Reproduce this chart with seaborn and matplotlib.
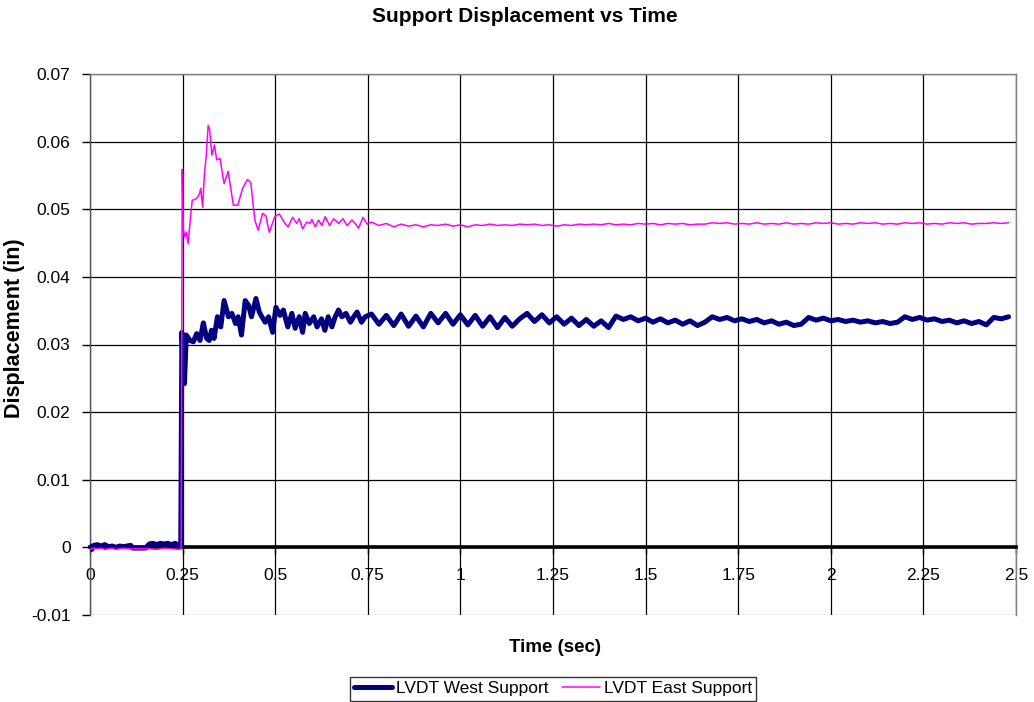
import numpy as np
import pandas as pd
import matplotlib
matplotlib.use("Agg")
import matplotlib.pyplot as plt
import seaborn as sns
from matplotlib.lines import Line2D

# ---------------- data ----------------
west_time_pre = [0.000, 0.005, 0.010, 0.020, 0.030, 0.040, 0.050, 0.060, 0.070, 0.080,
                 0.090, 0.100, 0.110, 0.115, 0.130, 0.150, 0.160, 0.170, 0.180, 0.190,
                 0.200, 0.210, 0.220, 0.230, 0.240, 0.245]
west_disp_pre = [0.0002, -0.0003, 0.0003, 0.0004, 0.0002, 0.0004, 0.0001, 0.0002, 0.0000, 0.0002,
                 0.0001, 0.0002, 0.0003, -0.0001, -0.0001, -0.0001, 0.0005, 0.0006, 0.0004, 0.0006,
                 0.0005, 0.0006, 0.0004, 0.0006, 0.0003, 0.0001]

west_time_tr = [0.248, 0.255, 0.260, 0.270, 0.279, 0.288, 0.297, 0.306, 0.315, 0.322,
                0.328, 0.335, 0.344, 0.353, 0.362, 0.374, 0.383, 0.393, 0.400, 0.409,
                0.419, 0.428, 0.436, 0.448, 0.457, 0.464, 0.473, 0.482, 0.493, 0.502,
                0.513, 0.522, 0.534, 0.545, 0.554, 0.565, 0.574, 0.581, 0.592, 0.604,
                0.613, 0.625, 0.634, 0.643, 0.653, 0.662, 0.671, 0.680, 0.691, 0.703,
                0.712, 0.721, 0.733, 0.743]
west_disp_tr = [0.0318, 0.0242, 0.0314, 0.0306, 0.0304, 0.0316, 0.0306, 0.0332, 0.0309, 0.0306,
                0.0321, 0.0309, 0.0341, 0.0326, 0.0365, 0.0341, 0.0346, 0.0331, 0.0341, 0.0314,
                0.0365, 0.0358, 0.0341, 0.0368, 0.0348, 0.0341, 0.0333, 0.0341, 0.0318, 0.0355,
                0.0343, 0.0351, 0.0326, 0.0346, 0.0324, 0.0341, 0.0318, 0.0346, 0.0331, 0.0341,
                0.0326, 0.0338, 0.0321, 0.0341, 0.0326, 0.0341, 0.0351, 0.0341, 0.0346, 0.0333,
                0.0341, 0.0348, 0.0333, 0.0341]

west_time_ss = [0.76, 0.78, 0.80, 0.82, 0.84, 0.86, 0.88, 0.90, 0.92, 0.94,
                0.96, 0.98, 1.00, 1.02, 1.04, 1.06, 1.08, 1.10, 1.12, 1.14,
                1.16, 1.18, 1.20, 1.22, 1.24, 1.26, 1.28, 1.30, 1.32, 1.34,
                1.36, 1.38, 1.40, 1.42, 1.44, 1.46, 1.48, 1.50, 1.52, 1.54,
                1.56, 1.58, 1.60, 1.62, 1.64, 1.66, 1.68, 1.70, 1.72, 1.74,
                1.76, 1.78, 1.80, 1.82, 1.84, 1.86, 1.88, 1.90, 1.92, 1.94,
                1.96, 1.98, 2.00, 2.02, 2.04, 2.06, 2.08, 2.10, 2.12, 2.14,
                2.16, 2.18, 2.20, 2.22, 2.24, 2.26, 2.28, 2.30, 2.32, 2.34,
                2.36, 2.38, 2.40, 2.42, 2.44, 2.46, 2.48]
west_disp_ss = [0.0345, 0.0330, 0.0343, 0.0328, 0.0345, 0.0327, 0.0342, 0.0326, 0.0346, 0.0332,
                0.0346, 0.0330, 0.0344, 0.0329, 0.0343, 0.0327, 0.0341, 0.0325, 0.0340, 0.0327,
                0.0338, 0.0346, 0.0334, 0.0344, 0.0332, 0.0341, 0.0330, 0.0339, 0.0328, 0.0337,
                0.0327, 0.0335, 0.0325, 0.0342, 0.0337, 0.0341, 0.0335, 0.0339, 0.0333, 0.0338,
                0.0332, 0.0336, 0.0330, 0.0335, 0.0328, 0.0333, 0.0341, 0.0337, 0.0340, 0.0335,
                0.0338, 0.0334, 0.0337, 0.0332, 0.0335, 0.0330, 0.0333, 0.0328, 0.0330, 0.0340,
                0.0336, 0.0339, 0.0335, 0.0337, 0.0334, 0.0336, 0.0333, 0.0335, 0.0332, 0.0334,
                0.0331, 0.0333, 0.0341, 0.0337, 0.0340, 0.0336, 0.0338, 0.0334, 0.0336, 0.0332,
                0.0335, 0.0331, 0.0334, 0.0329, 0.0340, 0.0338, 0.0341]

east_time_pre = [0.000, 0.010, 0.020, 0.030, 0.040, 0.050, 0.060, 0.070, 0.080, 0.090,
                 0.100, 0.120, 0.140, 0.160, 0.180, 0.200, 0.220, 0.240, 0.246]
east_disp_pre = [-0.0003, -0.0001, -0.0002, -0.0001, -0.0003, -0.0002, -0.0001, -0.0003, -0.0002, -0.0001,
                 -0.0002, -0.0002, -0.0002, -0.0002, -0.0003, -0.0001, -0.0002, -0.0003, -0.0002]

east_time_tr = [0.249, 0.252, 0.256, 0.260, 0.265, 0.270, 0.276, 0.288, 0.295, 0.299,
                0.304, 0.309, 0.314, 0.319, 0.323, 0.329, 0.336, 0.342, 0.351, 0.362,
                0.373, 0.387, 0.399, 0.412, 0.425, 0.434, 0.445, 0.454, 0.466, 0.475,
                0.484, 0.499, 0.511, 0.526, 0.535, 0.547, 0.558, 0.565, 0.574, 0.585,
                0.594, 0.599, 0.608, 0.617, 0.626, 0.635, 0.647, 0.658, 0.671, 0.683,
                0.694, 0.707, 0.716, 0.725, 0.737, 0.748]
east_disp_tr = [0.0559, 0.0470, 0.0459, 0.0466, 0.0449, 0.0480, 0.0513, 0.0516, 0.0522, 0.0531,
                0.0503, 0.0553, 0.0580, 0.0624, 0.0618, 0.0580, 0.0595, 0.0573, 0.0575, 0.0538,
                0.0556, 0.0506, 0.0506, 0.0531, 0.0544, 0.0540, 0.0484, 0.0469, 0.0494, 0.0490,
                0.0466, 0.0489, 0.0493, 0.0479, 0.0474, 0.0488, 0.0479, 0.0486, 0.0471, 0.0481,
                0.0479, 0.0485, 0.0474, 0.0484, 0.0476, 0.0489, 0.0476, 0.0486, 0.0479, 0.0486,
                0.0476, 0.0484, 0.0479, 0.0472, 0.0488, 0.0478]

east_time_ss = west_time_ss
east_disp_ss = [0.0481, 0.0476, 0.0479, 0.0474, 0.0478, 0.0475, 0.0477, 0.0474, 0.0477, 0.0476,
                0.0478, 0.0475, 0.0477, 0.0474, 0.0477, 0.0476, 0.0478, 0.0476, 0.0477, 0.0476,
                0.0478, 0.0477, 0.0478, 0.0476, 0.0477, 0.0475, 0.0477, 0.0476, 0.0478, 0.0477,
                0.0478, 0.0477, 0.0479, 0.0477, 0.0478, 0.0477, 0.0479, 0.0478, 0.0479, 0.0477,
                0.0479, 0.0478, 0.0479, 0.0477, 0.0478, 0.0478, 0.0480, 0.0479, 0.0480, 0.0478,
                0.0479, 0.0478, 0.0480, 0.0478, 0.0479, 0.0478, 0.0480, 0.0478, 0.0479, 0.0478,
                0.0480, 0.0479, 0.0480, 0.0478, 0.0479, 0.0478, 0.0480, 0.0479, 0.0480, 0.0478,
                0.0479, 0.0478, 0.0480, 0.0479, 0.0480, 0.0478, 0.0479, 0.0478, 0.0480, 0.0479,
                0.0480, 0.0478, 0.0479, 0.0479, 0.0480, 0.0479, 0.0480]

x_ticks = [0, 0.25, 0.5, 0.75, 1, 1.25, 1.5, 1.75, 2, 2.25, 2.5]
x_tick_labels = ["0", "0.25", "0.5", "0.75", "1", "1.25", "1.5", "1.75", "2", "2.25", "2.5"]
y_ticks = [-0.01, 0, 0.01, 0.02, 0.03, 0.04, 0.05, 0.06, 0.07]
y_tick_labels = ["-0.01", "0", "0.01", "0.02", "0.03", "0.04", "0.05", "0.06", "0.07"]

series_names = ["LVDT West Support", "LVDT East Support"]
series_colors = ["#000080", "#FF00FF"]

# ---------------- build frames ----------------
west = pd.DataFrame({"Time": west_time_pre + west_time_tr + west_time_ss,
                     "Disp": west_disp_pre + west_disp_tr + west_disp_ss})
east = pd.DataFrame({"Time": east_time_pre + east_time_tr + east_time_ss,
                     "Disp": east_disp_pre + east_disp_tr + east_disp_ss})

sns.set_theme(style="white")
plt.rcParams["font.family"] = ["Liberation Sans", "DejaVu Sans"]
plt.rcParams["text.color"] = "black"
plt.rcParams["xtick.color"] = "black"
plt.rcParams["ytick.color"] = "black"

fig = plt.figure(figsize=(10.34, 7.02), dpi=100)
ax = fig.add_axes([90 / 1034, 1 - 615 / 702, (1016 - 90) / 1034, (615 - 74) / 702])

sns.lineplot(data=west, x="Time", y="Disp", ax=ax, color=series_colors[0],
             linewidth=3.6, estimator=None, sort=False, zorder=4)
sns.lineplot(data=east, x="Time", y="Disp", ax=ax, color=series_colors[1],
             linewidth=1.1, estimator=None, sort=False, zorder=5)

ax.set_xlim(0, 2.5)
ax.set_ylim(-0.01, 0.07)
ax.set_xticks(x_ticks)
ax.set_xticklabels(x_tick_labels)
ax.set_yticks(y_ticks)
ax.set_yticklabels(y_tick_labels)

ax.grid(True, color="black", linewidth=0.9)
ax.set_axisbelow(True)
ax.get_ygridlines()[0].set_color("#808080")

for side in ["left", "right", "top"]:
    ax.spines[side].set_visible(True)
    ax.spines[side].set_color("#808080")
    ax.spines[side].set_linewidth(1.0)
ax.spines["left"].set_color("#555555")
ax.spines["bottom"].set_position(("data", 0))
ax.spines["bottom"].set_color("black")
ax.spines["bottom"].set_linewidth(2.6)
ax.spines["bottom"].set_zorder(3)

ax.tick_params(axis="x", direction="out", length=5, width=1, color="black", pad=10,
               bottom=True, labelsize=12.5, labelcolor="black")
ax.tick_params(axis="y", direction="out", length=6, width=1, color="black", pad=8,
               left=True, labelsize=12.5, labelcolor="black")

ax.set_xlabel("")
ax.set_ylabel("")
fig.text(555 / 1034, 1 - 648 / 702, "Time (sec)", ha="center", va="center",
         fontsize=13.5, fontweight="bold", color="black")
fig.text(15 / 1034, 1 - 328 / 702, "Displacement (in)", ha="center", va="center",
         rotation=90, fontsize=15.5, fontweight="bold", color="black")
fig.text(525 / 1034, 1 - 17 / 702, "Support Displacement vs Time", ha="center", va="center",
         fontsize=15, fontweight="bold", color="black")

handles = [Line2D([0], [0], color=series_colors[0], linewidth=3.6),
           Line2D([0], [0], color=series_colors[1], linewidth=1.1)]
leg = fig.legend(handles, series_names, loc="upper center", bbox_to_anchor=(553 / 1034, 1 - 677 / 702),
                 ncol=2, fontsize=12.5, frameon=True, fancybox=False, handlelength=2.2,
                 handletextpad=0.2, columnspacing=0.8, borderpad=0.25, borderaxespad=0)
leg.get_frame().set_edgecolor("black")
leg.get_frame().set_linewidth(1.0)
for t in leg.get_texts():
    t.set_color("black")

fig.savefig("out.png", dpi=100)
